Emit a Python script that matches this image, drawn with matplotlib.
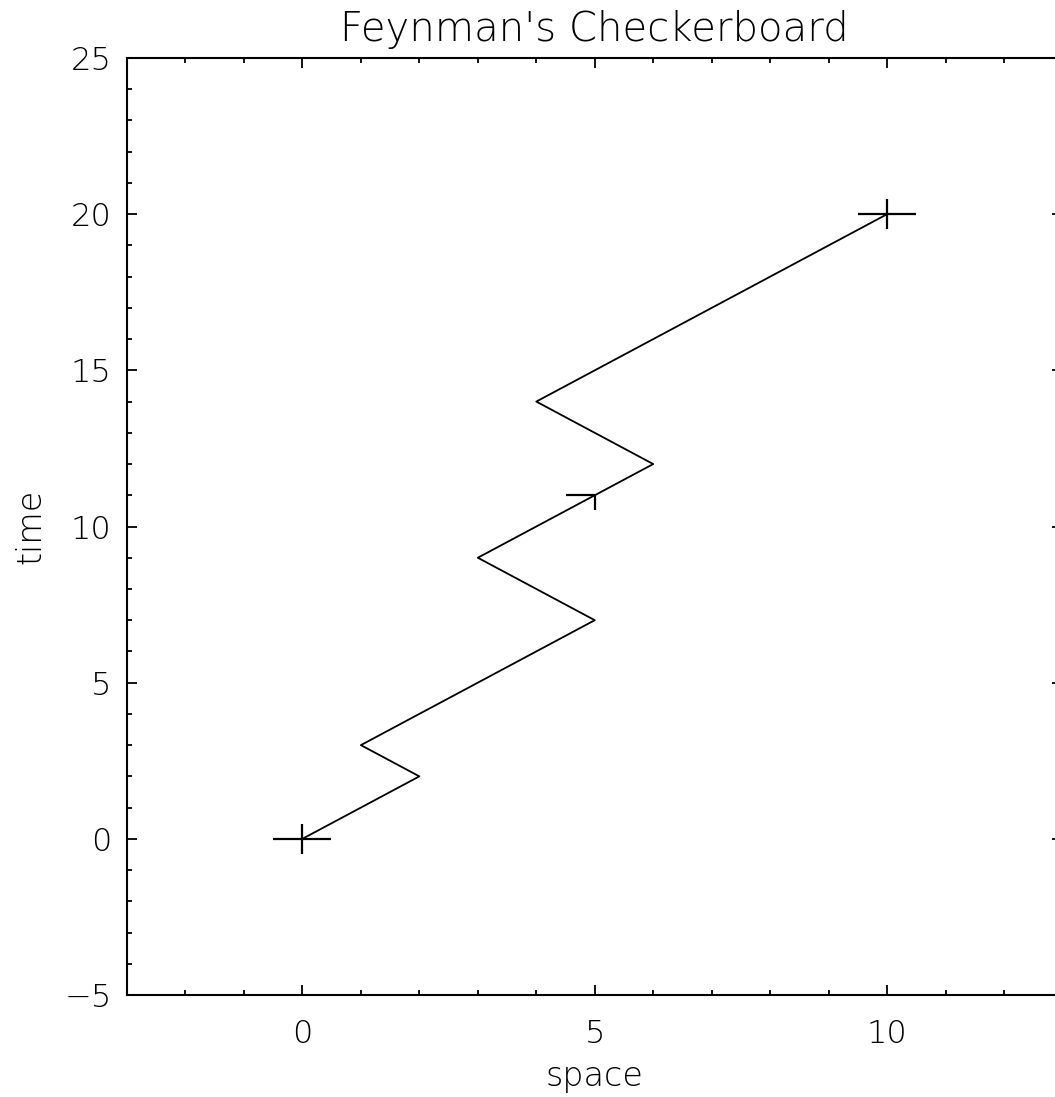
import numpy as np
import matplotlib.pyplot as plt
from matplotlib.path import Path
from matplotlib.ticker import MultipleLocator

# path on the checkerboard
space = [0, 2, 1, 5, 3, 5, 6, 4, 10]
time = [0, 2, 3, 7, 9, 11, 12, 14, 20]
# marked points
full_x = [0, 10]
full_y = [0, 20]
half_x = [5]
half_y = [11]

plt.rcParams['font.family'] = ['DejaVu Sans']
plt.rcParams['font.weight'] = 'light'

fig = plt.figure(figsize=(10.55, 10.97), dpi=100)
ax = fig.add_axes([0.1204, 0.0930, 0.8867, 0.8541])

# wide plus, and a half plus (left arm + down arm)
plus = Path([(-1, 0), (1, 0), (0, -0.5), (0, 0.5)],
            [Path.MOVETO, Path.LINETO, Path.MOVETO, Path.LINETO])
half = Path([(-1, 0), (0, 0), (0, -0.5), (1, 0.5)],
            [Path.MOVETO, Path.LINETO, Path.LINETO, Path.MOVETO])

ax.plot(space, time, color='black', lw=1.3)
ax.plot(full_x, full_y, ls='none', marker=plus, ms=41.8, mec='black',
        mfc='none', mew=1.6)
ax.plot(half_x, half_y, ls='none', marker=half, ms=41.8, mec='black',
        mfc='none', mew=1.6)

ax.set_xlim(-3, 13)
ax.set_ylim(-5, 25)
ax.xaxis.set_major_locator(MultipleLocator(5))
ax.xaxis.set_minor_locator(MultipleLocator(1))
ax.yaxis.set_major_locator(MultipleLocator(5))
ax.yaxis.set_minor_locator(MultipleLocator(1))
ax.tick_params(which='both', direction='in', top=True, right=True, width=1.3,
               labelsize=23, colors='black')
ax.tick_params(axis='x', which='major', length=7, pad=17)
ax.tick_params(axis='y', which='major', length=7, pad=11)
ax.tick_params(which='minor', length=3.5)
for s in ax.spines.values():
    s.set_linewidth(1.5)

ax.set_title("Feynman's Checkerboard", fontsize=29, pad=12, fontweight='light')
ax.set_xlabel('space', fontsize=24, labelpad=8, fontweight='light')
ax.set_ylabel('time', fontsize=24, labelpad=12, fontweight='light')

fig.savefig('out.png', dpi=100)
